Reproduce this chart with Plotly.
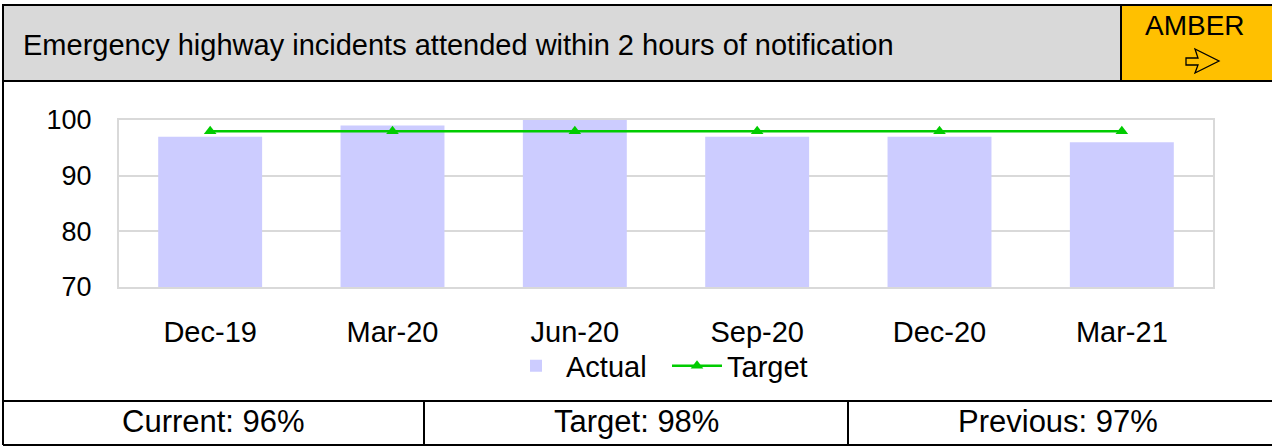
import plotly.graph_objects as go

categories = ["Dec-19", "Mar-20", "Jun-20", "Sep-20", "Dec-20", "Mar-21"]
actual = [97, 99, 100, 97, 97, 96]
target = [98, 98, 98, 98, 98, 98]
y_ticks = [70, 80, 90, 100]
title_text = "Emergency highway incidents attended within 2 hours of notification"
status_text = "AMBER"
footer = ["Current: 96%", "Target: 98%", "Previous: 97%"]

W, H = 1272, 446
L, R, T, B = 119, 1213, 120, 287  # plot area pixels
FONT = "Liberation Sans, Arial, sans-serif"
FS = 29


def px(x):
    return (x - L) / (R - L)


def py(y):
    return (B - y) / (B - T)


fig = go.Figure()
fig.add_trace(go.Bar(x=categories, y=actual, name="Actual",
                     marker=dict(color="#ccccff", line=dict(width=0))))
fig.add_trace(go.Scatter(x=categories, y=target, name="Target", mode="lines+markers",
                         line=dict(color="#00cc00", width=2.5),
                         marker=dict(symbol="triangle-up", size=11, color="#00cc00")))

shapes = []
# header band
shapes.append(dict(type="rect", xref="paper", yref="paper", x0=px(3), x1=px(1121), y0=py(81), y1=py(5),
                   fillcolor="#d9d9d9", line=dict(color="black", width=2), layer="below"))
shapes.append(dict(type="rect", xref="paper", yref="paper", x0=px(1121), x1=px(1273), y0=py(81), y1=py(5),
                   fillcolor="#ffc000", line=dict(color="black", width=2), layer="below"))
# outlined arrow icon in status box
arrow_pts = [(1186, 58), (1198, 58), (1195, 49), (1219, 61), (1195, 73), (1198, 65), (1186, 65)]
arrow_path = "M " + " L ".join(f"{px(a):.5f},{py(b):.5f}" for a, b in arrow_pts) + " Z"
shapes.append(dict(type="path", xref="paper", yref="paper", path=arrow_path,
                   fillcolor="rgba(0,0,0,0)", line=dict(color="black", width=1.3)))
# left border of body
shapes.append(dict(type="line", xref="paper", yref="paper", x0=px(3), x1=px(3), y0=py(81), y1=py(445),
                   line=dict(color="black", width=2)))
# footer lines
for yy in (401, 445):
    shapes.append(dict(type="line", xref="paper", yref="paper", x0=px(3), x1=px(1273), y0=py(yy), y1=py(yy),
                       line=dict(color="black", width=2)))
for xx in (424, 848):
    shapes.append(dict(type="line", xref="paper", yref="paper", x0=px(xx), x1=px(xx), y0=py(401), y1=py(445),
                       line=dict(color="black", width=2)))

annotations = [
    dict(text=title_text, xref="paper", yref="paper", x=px(21), y=py(45), xanchor="left", yanchor="middle",
         showarrow=False, font=dict(family=FONT, size=FS, color="black")),
    dict(text=status_text, xref="paper", yref="paper", x=px(1195), y=py(25), xanchor="center", yanchor="middle",
         showarrow=False, font=dict(family=FONT, size=28, color="black")),
]
for cx, t in zip((213, 636, 1058), footer):
    annotations.append(dict(text=t, xref="paper", yref="paper", x=px(cx), y=py(421), xanchor="center",
                            yanchor="middle", showarrow=False, font=dict(family=FONT, size=31, color="black")))

fig.update_layout(
    width=W, height=H,
    margin=dict(l=L, r=W - R, t=T, b=H - B),
    paper_bgcolor="white", plot_bgcolor="white",
    bargap=0.43,
    font=dict(family=FONT, size=FS, color="black"),
    showlegend=True,
    legend=dict(orientation="h", x=px(506), xanchor="left", y=py(366), yanchor="middle",
                font=dict(family=FONT, size=FS, color="black"), itemwidth=50,
                entrywidth=96, entrywidthmode="pixels", bgcolor="rgba(0,0,0,0)"),
    shapes=shapes, annotations=annotations,
)
fig.update_xaxes(showgrid=False, showline=True, linecolor="#d9d9d9", linewidth=2, mirror=True,
                 ticks="", tickfont=dict(family=FONT, size=FS), ticklabelstandoff=18)
fig.update_yaxes(range=[70, 100], tickvals=y_ticks, showgrid=True, gridcolor="#d9d9d9", gridwidth=2,
                 showline=True, linecolor="#d9d9d9", linewidth=2, mirror=True, zeroline=False,
                 ticks="", tickfont=dict(family=FONT, size=27), ticklabelstandoff=20)

fig.write_html("out.html", config={"displayModeBar": False},
               post_script="document.body.style.margin='0';document.body.style.overflow='hidden';")
